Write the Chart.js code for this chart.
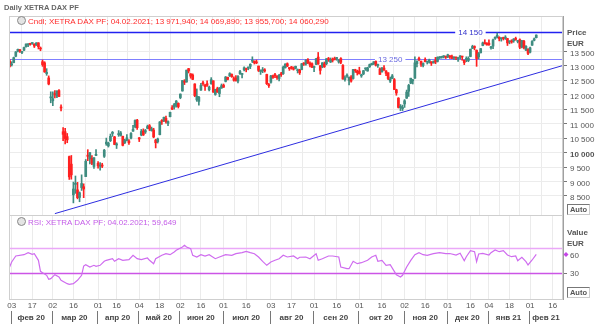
<!DOCTYPE html>
<html>
<head>
<meta charset="utf-8">
<script src="https://cdn.jsdelivr.net/npm/chart.js@4.4.1/dist/chart.umd.min.js"></script>
<style>
  body { margin: 0; background: #fff; font-family: 'Liberation Sans', Arial, sans-serif; }
  #wrap { position: relative; width: 600px; height: 331px; overflow: hidden; }
  canvas { position: absolute; left: 0; }
  #priceChart { top: 0; }
  #rsiChart { top: 215px; }
  .txt { position: absolute; font-size: 8px; line-height: 10px; white-space: nowrap; }
  .title { left: 4px; top: 3px; font-size: 7.5px; font-weight: bold; color: #666; }
  .clock { display: inline-block; width: 7px; height: 7px; border-radius: 50%; border: 1px solid #888;
           background: #e4e4e4; vertical-align: -1px; margin-right: 2px; }
  .axname { left: 567px; font-weight: bold; color: #555; }
  .auto { position: absolute; left: 567px; width: 21px; height: 9px; border: 1px solid #777; border-right-color: #ccc;
          border-bottom-color: #ccc; font-size: 7.5px; line-height: 9px; font-weight: bold; color: #555; text-align: center; }
</style>
</head>
<body>
<div id="wrap">
  <canvas id="priceChart" width="600" height="216"></canvas>
  <canvas id="rsiChart" width="600" height="116"></canvas>
  <div class="txt title">Daily XETRA DAX PF</div>
  <div class="txt" style="left:17px;top:16px;color:#ff2b2b"><span class="clock"></span>Cndl; XETRA DAX PF; 04.02.2021; 13 971,940; 14 069,890; 13 955,700; 14 060,290</div>
  <div class="txt" style="left:17px;top:217px;color:#c45ce8"><span class="clock"></span>RSI; XETRA DAX PF; 04.02.2021; 59,649</div>
  <div class="txt axname" style="top:28px">Price</div>
  <div class="txt axname" style="top:39px">EUR</div>
  <div class="txt axname" style="top:228px">Value</div>
  <div class="txt axname" style="top:239px">EUR</div>
  <div class="auto" style="top:204px">Auto</div>
  <div class="auto" style="top:287px">Auto</div>
</div>
<script>
// daily candles, one array per month: [day, open, high, low, close]
const jan20 = [[31, 13170, 13220, 12950, 12980]];
const feb20 = [[3,13030,13140,12990,13050],[4,13110,13300,13100,13280],[5,13330,13490,13310,13480],[6,13510,13580,13480,13570],
  [7,13550,13570,13460,13510],[10,13460,13500,13420,13490],[11,13540,13650,13520,13630],[12,13660,13760,13640,13750],
  [13,13720,13770,13660,13750],[14,13770,13780,13710,13740],[17,13770,13800,13740,13780],[18,13750,13760,13630,13680],
  [19,13720,13800,13700,13790],[20,13790,13800,13580,13660],[21,13600,13650,13520,13580],[24,13140,13200,12980,13040],
  [25,13100,13140,12770,12790],[26,12730,12900,12670,12770],[27,12580,12650,12340,12370],[28,11890,12100,11720,11890]];
const mar20 = [[2,11790,12100,11620,11860],[3,12040,12140,11890,11990],[4,11950,12130,11900,12130],[5,12140,12180,11930,11940],
  [6,11560,11650,11440,11540],[9,10720,10860,10410,10630],[10,10720,10840,10300,10480],[11,10550,10660,10340,10440],
  [12,9860,9880,9070,9160],[13,9600,9900,9080,9230],[16,8540,8980,8260,8740],[17,8900,9190,8590,8940],
  [18,8710,8970,8400,8440],[19,8450,8640,8300,8610],[20,8790,9230,8690,8930],[23,8820,8920,8440,8740],
  [24,9170,9760,9170,9700],[25,9910,10100,9720,9870],[26,9780,10000,9610,10000],[27,9800,9900,9580,9630],
  [30,9520,9830,9450,9820],[31,9900,10100,9890,9940]];
const apr20 = [[1,9630,9690,9460,9540],[2,9530,9650,9390,9570],[3,9570,9630,9480,9530],[6,9870,10110,9830,10080],
  [7,10300,10500,10250,10360],[8,10230,10360,10190,10330],[9,10410,10640,10380,10560],[14,10660,10730,10560,10700],
  [15,10540,10560,10270,10280],[16,10260,10340,10140,10300],[17,10620,10760,10560,10630],[20,10590,10730,10570,10680],
  [21,10560,10570,10230,10250],[22,10340,10460,10310,10420],[23,10420,10620,10400,10510],[24,10400,10450,10280,10340],
  [27,10500,10690,10470,10660],[28,10740,10940,10730,10800],[29,10900,11130,10850,11110],[30,11120,11150,10800,10860]];
const may20 = [[4,10510,10520,10380,10470],[5,10610,10800,10580,10730],[6,10750,10820,10590,10610],[7,10710,10800,10660,10760],
  [8,10840,10950,10820,10900],[11,10930,10970,10760,10820],[12,10760,10880,10740,10820],[13,10780,10840,10510,10540],
  [14,10430,10460,10160,10340],[15,10380,10500,10330,10470],[18,10620,11070,10610,11060],[19,11110,11140,10970,11080],
  [20,11100,11230,11070,11220],[21,11180,11260,11020,11070],[22,11010,11100,10930,11070],[25,11240,11400,11230,11390],
  [26,11550,11620,11480,11500],[27,11570,11700,11500,11660],[28,11610,11800,11570,11780],[29,11700,11720,11540,11590]];
const jun20 = [[2,11900,12030,11860,12020],[3,12130,12490,12120,12490],[4,12460,12520,12350,12430],[5,12440,12850,12430,12850],
  [8,12900,12910,12750,12820],[9,12720,12730,12570,12640],[10,12680,12720,12520,12530],[11,12370,12380,11930,11970],
  [12,11820,12200,11770,11950],[15,11770,11940,11640,11910],[16,12160,12390,12150,12320],[17,12410,12470,12320,12380],
  [18,12330,12360,12150,12280],[19,12380,12480,12290,12330],[22,12170,12300,12130,12260],[23,12380,12590,12360,12520],
  [24,12480,12480,12080,12090],[25,12010,12190,11980,12180],[26,12210,12260,12080,12090],[29,12040,12250,11930,12230],
  [30,12230,12370,12220,12310]];
const jul20 = [[1,12330,12370,12250,12260],[2,12460,12630,12440,12610],[3,12600,12610,12510,12530],[6,12650,12760,12630,12730],
  [7,12700,12720,12600,12620],[8,12560,12620,12470,12500],[9,12580,12660,12470,12490],[10,12470,12660,12410,12630],
  [13,12730,12840,12700,12800],[14,12700,12740,12580,12700],[15,12860,12960,12820,12930],[16,12900,12920,12790,12870],
  [17,12920,12960,12860,12920],[20,12980,13070,12900,13050],[21,13160,13310,13110,13170],[22,13160,13170,13060,13100],
  [23,13130,13200,13070,13100],[24,12990,12990,12800,12840],[27,12800,12860,12700,12840],[28,12830,12940,12760,12840],
  [29,12860,12900,12780,12820],[30,12700,12710,12350,12380],[31,12350,12390,12250,12310]];
const aug20 = [[3,12430,12670,12400,12650],[4,12650,12680,12560,12600],[5,12670,12740,12590,12660],[6,12640,12660,12530,12590],
  [7,12560,12700,12480,12670],[10,12710,12770,12630,12690],[11,12730,12990,12700,12950],[12,12930,13070,12920,13060],
  [13,13070,13100,12970,12990],[14,12940,12940,12840,12900],[17,12960,12980,12880,12920],[18,12920,12960,12850,12880],
  [19,12910,12990,12890,12980],[20,12830,12890,12750,12830],[21,12860,12880,12700,12760],[24,12870,13080,12860,13070],
  [25,13080,13110,13010,13060],[26,13060,13210,13020,13190],[27,13210,13250,13070,13100],[28,13090,13140,12960,13030],
  [31,13070,13100,12930,12950]];
const sep20 = [[1,12940,12990,12800,12970],[2,13050,13260,13040,13240],[3,13300,13460,13050,13060],[4,13000,13010,12710,12840],
  [7,12960,13110,12930,13100],[8,13070,13130,12940,12970],[9,13070,13250,13030,13240],[10,13250,13290,13150,13210],
  [11,13130,13270,13110,13200],[14,13230,13270,13130,13190],[15,13240,13300,13200,13220],[16,13250,13290,13190,13260],
  [17,13130,13210,13090,13210],[18,13250,13280,13070,13120],[21,13010,13040,12540,12540],[22,12520,12650,12470,12590],
  [23,12640,12720,12600,12640],[24,12490,12610,12340,12610],[25,12610,12660,12430,12470],[28,12560,12880,12540,12870],
  [29,12850,12880,12770,12830],[30,12810,12850,12680,12760]];
const oct20 = [[1,12820,12950,12710,12730],[2,12650,12710,12600,12690],[5,12720,12840,12690,12830],[6,12890,12930,12840,12910],
  [7,12820,12950,12810,12930],[8,12970,13060,12940,13040],[9,13040,13090,13020,13050],[12,13070,13140,13040,13140],
  [13,13150,13170,12990,13020],[14,13010,13060,12940,13030],[15,12890,12930,12700,12700],[16,12790,12950,12780,12910],
  [19,12920,13010,12840,12850],[20,12820,12830,12660,12740],[21,12760,12760,12520,12560],[22,12470,12610,12420,12540],
  [23,12560,12700,12550,12650],[26,12520,12560,12180,12180],[27,12170,12190,11980,12060],[28,11880,11900,11540,11560],
  [29,11550,11660,11450,11600],[30,11520,11640,11450,11560]];
const nov20 = [[2,11680,11830,11560,11790],[3,11880,12160,11870,12090],[4,12120,12360,11940,12320],[5,12400,12570,12380,12570],
  [6,12480,12530,12370,12480],[9,12570,13310,12560,13100],[10,13070,13170,12960,13160],[11,13230,13300,13180,13220],
  [12,13160,13160,12980,13050],[13,13010,13100,12960,13080],[16,13220,13270,13130,13140],[17,13130,13150,13060,13130],
  [18,13120,13230,13090,13200],[19,13140,13140,13010,13090],[20,13100,13170,13090,13140],[23,13180,13290,13070,13130],
  [24,13150,13310,13130,13290],[25,13270,13320,13250,13290],[26,13290,13330,13260,13290],[27,13310,13350,13270,13340],
  [30,13320,13340,13250,13290]];
const dec20 = [[1,13300,13400,13280,13380],[2,13340,13350,13250,13310],[3,13320,13370,13250,13250],[4,13270,13310,13220,13300],
  [7,13290,13300,13210,13270],[8,13250,13280,13150,13280],[9,13300,13350,13240,13340],[10,13320,13330,13190,13300],
  [11,13190,13200,13040,13110],[14,13220,13310,13140,13220],[15,13180,13310,13140,13260],[16,13320,13580,13310,13570],
  [17,13600,13710,13590,13670],[18,13640,13690,13550,13630],[21,13530,13550,12980,13250],[22,13310,13460,13240,13420],
  [23,13450,13600,13440,13590],[28,13700,13820,13690,13790],[29,13800,13900,13750,13760],[30,13770,13800,13710,13720]];
const jan21 = [[4,13780,13900,13700,13730],[5,13620,13670,13570,13650],[6,13680,13920,13590,13890],[7,13950,14000,13910,13970],
  [8,14000,14130,13960,14050],[11,13990,14000,13860,13940],[12,13930,13970,13850,13930],[13,13970,13990,13890,13940],
  [14,13950,14040,13910,13990],[15,13940,13950,13700,13790],[18,13830,13860,13760,13850],[19,13850,13900,13780,13820],
  [20,13860,13940,13810,13920],[21,13940,13990,13880,13910],[22,13840,13870,13790,13870],[25,13900,13930,13590,13640],
  [26,13650,13880,13620,13870],[27,13850,13880,13580,13620],[28,13540,13700,13520,13670],[29,13560,13590,13380,13430]];
const feb21 = [[1,13470,13650,13440,13620],[2,13710,13870,13700,13840],[3,13880,13960,13860,13930],[4,13970,14070,13960,14060]];
// trading days still to come on the axis
const feb21Empty = [5, 8, 9, 10, 11, 12, 15, 16, 17, 18, 19, 22, 23];

const monthLabels = ['фев 20','мар 20','апр 20','май 20','июн 20','июл 20','авг 20','сен 20','окт 20','ноя 20','дек 20','янв 21','фев 21'];
const tickDates = ['2020-02-03','2020-02-17','2020-03-02','2020-03-16','2020-04-01','2020-04-16','2020-05-04','2020-05-18',
  '2020-06-02','2020-06-16','2020-07-01','2020-07-16','2020-08-03','2020-08-17','2020-09-01','2020-09-16','2020-10-01',
  '2020-10-16','2020-11-02','2020-11-16','2020-12-01','2020-12-16','2021-01-04','2021-01-18','2021-02-01','2021-02-16'];
const priceTicks = [8500, 9000, 9500, 10000, 10500, 11000, 11500, 12000, 12500, 13000, 13500];

// trend line drawn on the chart
const trendDates = ['2020-03-03', '2021-02-23'];
const trendValues = [7890, 13010];

// RSI: session number (0 = 31.01.2020) and value
const rsiSession = [0,1,3,7,9,11,12,14,15,16,18,19,20,22,24,25,28,29,31,33,35,36,37,39,41,42,44,46,47,50,51,53,55,58,60,62,64,67,68,70,
  71,74,76,78,80,81,84,85,86,88,89,91,93,95,97,100,102,105,108,110,113,115,117,119,121,123,125,127,129,131,133,135,138,140,141,144,146,
  149,150,152,155,157,160,161,164,165,167,169,171,174,176,178,179,181,183,185,187,188,190,191,193,195,197,199,201,203,206,209,212,214,
  217,219,221,222,224,226,227,228,230,233,234,236,238,240,242,244,246,247,249,251,252,254,256];
const rsiValue = [39.6,47.6,57.2,59.3,62.5,59.9,60.9,50.3,32.7,30.5,26.3,19.9,20.9,27.3,23.6,18.3,12.9,11.9,12.9,18.3,26.3,41.2,43.3,
  39.6,42.3,40.7,42.3,48.7,50.3,52.9,48.7,52.9,50.3,51.3,58.3,52.9,51.3,54.0,50.3,44.9,52.9,58.3,60.9,59.3,63.6,66.3,71.6,74.3,71.6,
  68.9,58.3,55.6,59.3,57.2,59.3,52.9,55.6,59.3,58.3,60.9,62.5,64.7,62.5,60.9,55.6,48.7,42.3,47.6,50.3,52.9,58.3,55.6,57.2,52.9,55.2,
  55.6,52.9,60.9,50.3,52.9,57.2,57.2,55.6,39.6,36.9,36.9,48.7,44.9,46.5,50.3,55.6,58.3,48.7,50.3,42.3,43.3,32.7,27.3,23.6,26.3,39.6,
  50.3,59.3,62.5,59.3,58.3,60.9,62.5,60.9,61.2,58.8,61.5,49.7,56.1,65.7,64.1,48.1,60.4,61.5,58.8,62.5,66.8,64.1,65.7,58.8,56.1,57.2,
  49.7,55.1,48.1,42.8,50.8,59.649];
const rsiLevels = [70, 30];

// ---- build sessions (x axis is the trading day number) ----
const pad = n => String(n).padStart(2, '0');
const monthRows = [[2020,1,jan20],[2020,2,feb20],[2020,3,mar20],[2020,4,apr20],[2020,5,may20],[2020,6,jun20],[2020,7,jul20],
  [2020,8,aug20],[2020,9,sep20],[2020,10,oct20],[2020,11,nov20],[2020,12,dec20],[2021,1,jan21],[2021,2,feb21]];
const sessions = [];
const candles = [];
const monthStarts = [];
monthRows.forEach(([y, m, rows], k) => {
  if (k > 0) monthStarts.push(sessions.length);
  rows.forEach(r => { sessions.push(`${y}-${pad(m)}-${pad(r[0])}`); candles.push(r); });
});
feb21Empty.forEach(d => sessions.push(`2021-02-${pad(d)}`));
const xMax = sessions.length - 1;
const tickIdx = tickDates.map(d => sessions.indexOf(d));
const tickText = {};
tickDates.forEach((d, i) => { tickText[tickIdx[i]] = d.slice(8); });

const bodyData = candles.map((c, i) => ({ x: i, y: [c[1], c[4]] }));
const wickData = candles.map((c, i) => ({ x: i, y: [c[3], c[2]] }));
const candleColors = candles.map(c => c[4] >= c[1] ? '#3f8c80' : '#ff2020');
const trendData = trendDates.map((d, i) => ({ x: sessions.indexOf(d), y: trendValues[i] }));
const rsiData = rsiSession.map((s, i) => ({ x: s, y: rsiValue[i] }));

const FONT = 'Liberation Sans';
const fmt = v => String(v).replace(/\B(?=(\d{3})+(?!\d))/g, ' ');

// scales must not push the plot area in for their end labels
const noPad = s => { s.paddingTop = 0; s.paddingBottom = 0; s.paddingLeft = 0; s.paddingRight = 0; };

// frame around the plot area
const framePlugin = {
  id: 'frame',
  afterDraw(chart) {
    const { ctx, chartArea: a } = chart;
    ctx.save();
    ctx.strokeStyle = '#cfcfcf';
    ctx.lineWidth = 1;
    ctx.strokeRect(a.left + 0.5, a.top + 0.5, a.right - a.left - 1, a.bottom - a.top);
    ctx.restore();
  }
};

// horizontal level lines, optionally with a label in the middle
const levelsPlugin = {
  id: 'levels',
  beforeDatasetsDraw(chart, args, opts) {
    const { ctx, chartArea: a, scales } = chart;
    ctx.save();
    opts.lines.forEach(l => {
      const y = Math.round(scales.y.getPixelForValue(l.value)) + 0.5;
      ctx.strokeStyle = l.color;
      ctx.lineWidth = l.width;
      ctx.beginPath();
      ctx.moveTo(a.left, y);
      ctx.lineTo(a.right, y);
      ctx.stroke();
      if (l.label) {
        const x = scales.x.getPixelForValue(l.labelAt);
        ctx.font = `8px ${FONT}`;
        const w = ctx.measureText(l.label).width + 6;
        ctx.fillStyle = '#fff';
        ctx.fillRect(x - w / 2, y - 4, w, 8);
        ctx.fillStyle = l.textColor;
        ctx.textAlign = 'center';
        ctx.textBaseline = 'middle';
        ctx.fillText(l.label, x, y);
      }
    });
    ctx.restore();
  }
};

// month names under the day ticks
const monthRowPlugin = {
  id: 'monthRow',
  afterDraw(chart) {
    const { ctx, chartArea: a, scales } = chart;
    const xs = monthStarts.map(i => scales.x.getPixelForValue(i - 0.5));
    ctx.save();
    ctx.font = `bold 8px ${FONT}`;
    ctx.fillStyle = '#444';
    ctx.textAlign = 'center';
    ctx.textBaseline = 'middle';
    ctx.strokeStyle = '#777';
    ctx.lineWidth = 1;
    xs.forEach((x, k) => {
      const xr = k + 1 < xs.length ? xs[k + 1] : a.right;
      ctx.beginPath();
      ctx.moveTo(Math.round(x) + 0.5, a.bottom + 12);
      ctx.lineTo(Math.round(x) + 0.5, a.bottom + 25);
      ctx.stroke();
      ctx.fillText(monthLabels[k], (x + xr) / 2, a.bottom + 19);
    });
    ctx.restore();
  }
};

// marker for the last RSI value on the axis
const lastMarkPlugin = {
  id: 'lastMark',
  afterDraw(chart) {
    const { ctx, chartArea: a, scales } = chart;
    const y = scales.y.getPixelForValue(rsiValue[rsiValue.length - 1]);
    const x = a.right + 3;
    ctx.save();
    ctx.fillStyle = '#c445e6';
    ctx.beginPath();
    ctx.moveTo(x, y - 2.5); ctx.lineTo(x + 2.5, y); ctx.lineTo(x, y + 2.5); ctx.lineTo(x - 2.5, y);
    ctx.closePath();
    ctx.fill();
    ctx.restore();
  }
};

const xScale = (showLabels) => ({
  type: 'linear',
  min: -0.3,
  max: xMax,
  offset: false,
  afterBuildTicks: s => { s.ticks = tickIdx.map(v => ({ value: v })); },
  ticks: {
    display: showLabels, autoSkip: false, maxRotation: 0, padding: 2,
    color: '#555', font: { family: FONT, size: 8 },
    callback: v => tickText[v] || ''
  },
  grid: { color: '#ebebeb', drawTicks: false },
  border: { display: false },
  afterFit: s => { s.height = showLabels ? 32 : 0; noPad(s); }
});

new Chart(document.getElementById('priceChart'), {
  type: 'bar',
  data: {
    datasets: [
      { type: 'line', data: trendData, borderColor: '#2d2de0', borderWidth: 1, pointRadius: 0, order: 0 },
      { data: bodyData, backgroundColor: candleColors, barThickness: 2, minBarLength: 1, grouped: false, order: 1 },
      { data: wickData, backgroundColor: candleColors, barThickness: 1, grouped: false, order: 2 }
    ]
  },
  options: {
    responsive: false,
    animation: false,
    layout: { padding: { left: 9, right: 0, top: 16, bottom: 1 } },
    plugins: {
      legend: { display: false },
      tooltip: { enabled: false },
      levels: {
        lines: [
          { value: 14150, color: '#2222f0', width: 1.5, label: '14 150', labelAt: sessions.indexOf('2020-12-16'), textColor: '#3333cc' },
          { value: 13250, color: '#7f7fff', width: 1, label: '13 250', labelAt: sessions.indexOf('2020-10-22'), textColor: '#6a6adf' }
        ]
      }
    },
    scales: {
      x: xScale(false),
      y: {
        position: 'right',
        min: 7842,
        max: 14720,
        afterBuildTicks: s => { s.ticks = priceTicks.map(v => ({ value: v })); },
        ticks: {
          padding: 3, labelOffset: 2, color: '#555',
          font: ctx => ({ family: FONT, size: 8, weight: ctx.tick && ctx.tick.value === 10000 ? 'bold' : 'normal' }),
          callback: v => fmt(v)
        },
        grid: { color: '#ececec', tickColor: '#777', tickLength: 4 },
        border: { color: '#a0a0a0' },
        afterFit: s => { s.width = 37; noPad(s); }
      }
    }
  },
  plugins: [levelsPlugin, framePlugin]
});

new Chart(document.getElementById('rsiChart'), {
  type: 'line',
  data: {
    datasets: [
      { data: rsiData, borderColor: '#cf6cef', borderWidth: 1.2, pointRadius: 0, tension: 0 }
    ]
  },
  options: {
    responsive: false,
    animation: false,
    layout: { padding: { left: 9, right: 0, top: 0, bottom: 0 } },
    plugins: {
      legend: { display: false },
      tooltip: { enabled: false },
      levels: {
        lines: [
          { value: rsiLevels[0], color: '#eaa8f8', width: 1.5 },
          { value: rsiLevels[1], color: '#cc55e6', width: 1.5 }
        ]
      }
    },
    scales: {
      x: xScale(true),
      y: {
        position: 'right',
        min: -11.6,
        max: 122.8,
        afterBuildTicks: s => { s.ticks = [{ value: 30 }, { value: rsiValue[rsiValue.length - 1] }]; },
        ticks: { padding: 3, labelOffset: 1, color: '#555', font: { family: FONT, size: 8 }, callback: v => Math.round(v) },
        grid: { color: 'rgba(0,0,0,0)', tickColor: '#777', tickLength: 4 },
        border: { color: '#a0a0a0' },
        afterFit: s => { s.width = 37; noPad(s); }
      }
    }
  },
  plugins: [levelsPlugin, framePlugin, monthRowPlugin, lastMarkPlugin]
});
</script>
</body>
</html>
